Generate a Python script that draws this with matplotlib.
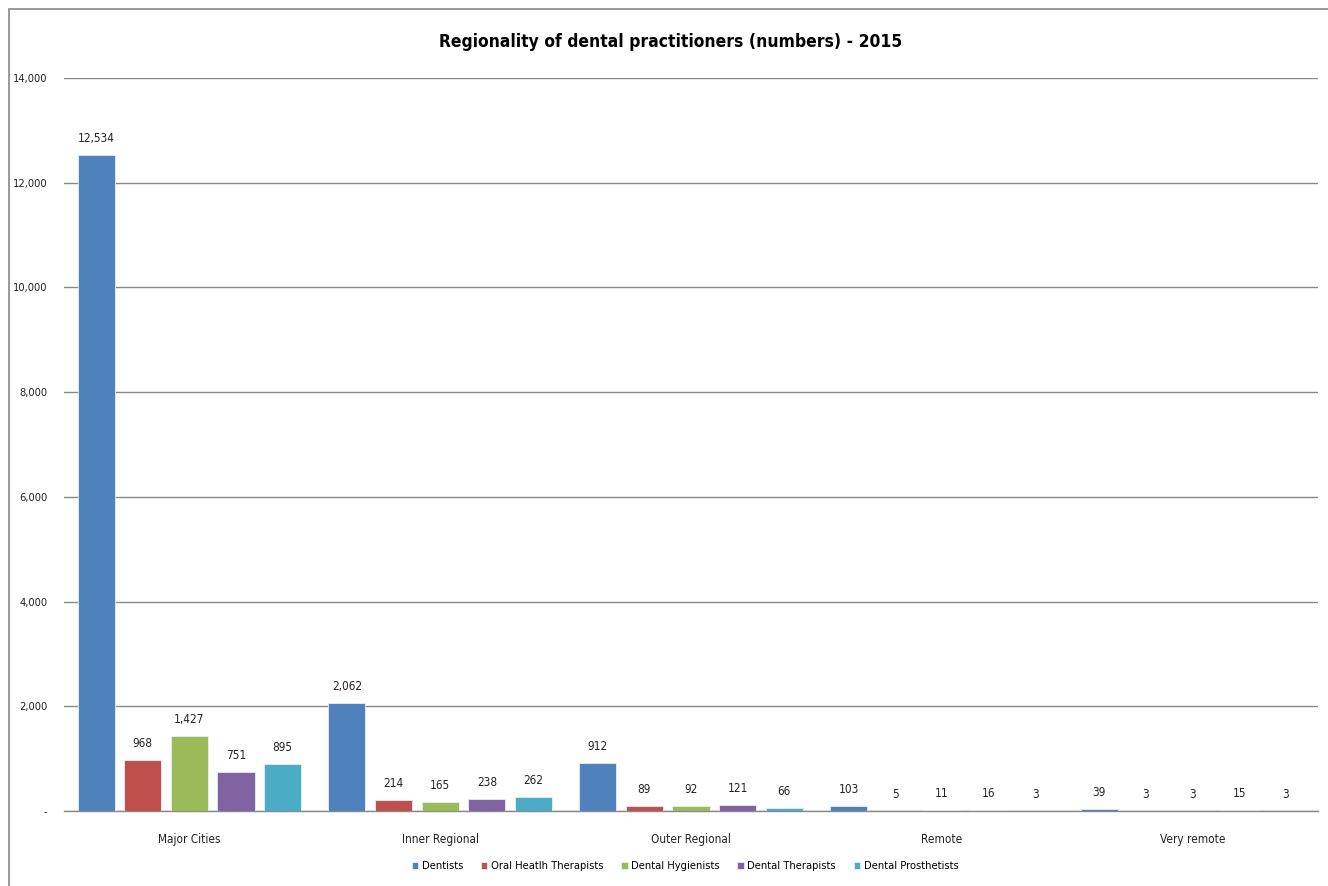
import numpy as np
import matplotlib.pyplot as plt
from matplotlib.patches import Rectangle

plt.rcParams['font.family'] = ['DejaVu Sans']
plt.rcParams['font.stretch'] = 'condensed'

regions = ['Major Cities', 'Inner Regional', 'Outer Regional', 'Remote', 'Very remote']
series = ['Dentists', 'Oral Heatlh Therapists', 'Dental Hygienists',
          'Dental Therapists', 'Dental Prosthetists']
dentists = [12534, 2062, 912, 103, 39]
oral_health = [968, 214, 89, 5, 3]
hygienists = [1427, 165, 92, 11, 3]
therapists = [751, 238, 121, 16, 15]
prosthetists = [895, 262, 66, 3, 3]
colors = ['#4F81BD', '#C0504D', '#9BBB59', '#8064A2', '#4BACC6']

fig = plt.figure(figsize=(13.28, 8.86), dpi=100)
ax = fig.add_axes([64 / 1328, 75 / 886, (1318 - 64) / 1328, (811 - 78) / 886])

# outer chart border (only top/left edges fall inside the image)
fig.patches.append(Rectangle((9 / 1328, -0.1), 1.2, (886 - 9) / 886 + 0.1,
                             transform=fig.transFigure, fill=False,
                             edgecolor='#888888', linewidth=1.2))

x = np.arange(len(regions))
width = 0.148
step = 0.186
all_vals = [dentists, oral_health, hygienists, therapists, prosthetists]
for i, (name, vals, c) in enumerate(zip(series, all_vals, colors)):
    pos = x + (i - 2) * step
    ax.bar(pos, vals, width, color=c, label=name, edgecolor='#e6eef7', linewidth=0.6, zorder=3)
    for px, v in zip(pos, vals):
        ax.text(px, v + 190, f'{v:,}', ha='center', va='bottom', fontsize=8.5, color='#222222')

ax.set_xlim(-0.5, 4.5)
ax.set_ylim(0, 14000)
ax.set_yticks(range(0, 14001, 2000))
ax.set_yticklabels(['-'] + [f'{v:,}' for v in range(2000, 14001, 2000)], fontsize=8)
ax.set_xticks(x)
ax.set_xticklabels(regions, fontsize=8.5)
ax.tick_params(axis='both', length=0, pad=12, colors='#222222')
ax.tick_params(axis='x', pad=16)
ax.grid(axis='y', color='#888888', linewidth=1, zorder=0)
for s in ['top', 'right', 'left']:
    ax.spines[s].set_visible(False)
ax.spines['bottom'].set_color('#888888')
ax.spines['bottom'].set_linewidth(1)

fig.text(671 / 1328, 1 - 42 / 886, 'Regionality of dental practitioners (numbers) - 2015',
         ha='center', va='center', fontsize=12.5, fontweight='bold')

fig.legend(loc='center', bbox_to_anchor=(685 / 1328, 1 - 866 / 886), ncol=5,
           frameon=False, fontsize=8, handlelength=0.6, handleheight=0.6,
           handletextpad=0.3, columnspacing=1.6)

fig.savefig('out.png', dpi=100)
